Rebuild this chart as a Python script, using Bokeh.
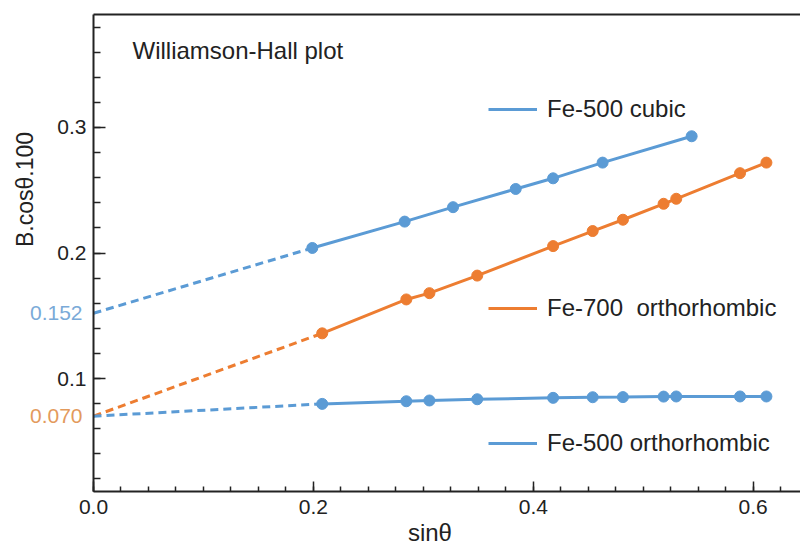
import math
from bokeh.plotting import figure
from bokeh.models import Range1d, FixedTicker, Label, Legend, LegendItem, LinearAxis
from bokeh.embed import file_html
from bokeh.resources import INLINE

# ---- data ----
x_cubic = [0.199, 0.283, 0.327, 0.384, 0.418, 0.463, 0.544]
y_cubic = [0.204, 0.225, 0.2365, 0.251, 0.2595, 0.272, 0.293]

x_fe700 = [0.208, 0.2845, 0.3055, 0.349, 0.418, 0.454, 0.4815, 0.5185, 0.530, 0.588, 0.612]
y_fe700 = [0.136, 0.163, 0.168, 0.182, 0.2055, 0.2175, 0.2265, 0.2392, 0.2432, 0.2636, 0.272]

x_fe500o = [0.208, 0.2845, 0.3055, 0.349, 0.418, 0.454, 0.4815, 0.5185, 0.530, 0.588, 0.612]
y_fe500o = [0.0798, 0.0819, 0.0825, 0.0835, 0.0846, 0.0851, 0.0852, 0.0856, 0.0857, 0.0857, 0.0857]

intercept_cubic = 0.152
intercept_fe700 = 0.070
intercept_fe500o = 0.070

series_names = ["Fe-500 cubic", "Fe-700  orthorhombic", "Fe-500 orthorhombic"]
intercept_labels = ["0.152", "0.070"]

x_major = [0.0, 0.2, 0.4, 0.6]
x_minor = [i * 0.025 for i in range(0, 26)]
y_major = [0.1, 0.2, 0.3]
y_minor = [i * 0.02 for i in range(1, 20)]

BLUE = "#5b9bd5"
ORANGE = "#ed7d31"
INK = "#222222"
FONT = "Liberation Sans"

# axis (data) extents and the canvas margins around them, in pixels
X0, X1 = 0.0, 0.643
Y0, Y1 = 0.01, 0.39
W, H = 800, 548
LEFT, RIGHT, TOP, BOTTOM = 93, 0, 14, 57
xpx = (W - LEFT - RIGHT) / (X1 - X0)
ypx = (H - TOP - BOTTOM) / (Y1 - Y0)
x_lo, x_hi = X0 - LEFT / xpx, X1 + RIGHT / xpx
y_lo, y_hi = Y0 - BOTTOM / ypx, Y1 + TOP / ypx

p = figure(width=W, height=H, x_range=Range1d(x_lo, x_hi), y_range=Range1d(y_lo, y_hi),
           output_backend="svg", toolbar_location=None, min_border=0)
p.outline_line_color = None
p.xgrid.visible = False
p.ygrid.visible = False
p.background_fill_color = "white"
p.border_fill_color = "white"

# axes drawn at fixed data positions
for ax in (p.xaxis[0], p.yaxis[0]):
    ax.axis_line_color = INK
    ax.axis_line_width = 2
    ax.major_tick_line_color = INK
    ax.minor_tick_line_color = INK
    ax.major_tick_line_width = 1.5
    ax.minor_tick_line_width = 1.5
    ax.major_tick_out = 0
    ax.minor_tick_out = 0
    ax.major_label_text_font = FONT
    ax.major_label_text_font_size = "21px"
    ax.major_label_text_color = INK

xa = p.xaxis[0]
xa.fixed_location = Y0
xa.bounds = (X0, X1)
xa.ticker = FixedTicker(ticks=x_major, minor_ticks=x_minor)
xa.major_tick_in = 10
xa.minor_tick_in = 5
xa.major_label_standoff = 8
xa.major_label_overrides = {0.0: "0.0", 0.2: "0.2", 0.4: "0.4", 0.6: "0.6"}

ya = p.yaxis[0]
ya.fixed_location = X0
ya.bounds = (Y0, Y1)
ya.ticker = FixedTicker(ticks=y_major, minor_ticks=y_minor)
ya.major_tick_in = 12
ya.minor_tick_in = 7
ya.major_label_standoff = 7

# top border line
top = LinearAxis(fixed_location=Y1, bounds=(X0, X1), ticker=FixedTicker(ticks=[]),
                 axis_line_color=INK, axis_line_width=2,
                 major_tick_line_color=None, minor_tick_line_color=None,
                 major_label_text_font_size="0px")
p.add_layout(top, "above")

# dashed extrapolations
p.line([0, x_cubic[0]], [intercept_cubic, y_cubic[0]], line_color=BLUE, line_width=3, line_dash="8 5")
p.line([0, x_fe700[0]], [intercept_fe700, y_fe700[0]], line_color=ORANGE, line_width=3, line_dash="8 5")
p.line([0, x_fe500o[0]], [intercept_fe500o, y_fe500o[0]], line_color=BLUE, line_width=3, line_dash="8 5")

# solid lines + markers
r1 = p.line(x_cubic, y_cubic, line_color=BLUE, line_width=3)
p.scatter(x_cubic, y_cubic, size=11, fill_color=BLUE, line_color=BLUE)
r2 = p.line(x_fe700, y_fe700, line_color=ORANGE, line_width=3)
p.scatter(x_fe700, y_fe700, size=11, fill_color=ORANGE, line_color=ORANGE)
r3 = p.line(x_fe500o, y_fe500o, line_color=BLUE, line_width=3)
p.scatter(x_fe500o, y_fe500o, size=11, fill_color=BLUE, line_color=BLUE)

# legends (three separate entries)
for name, rend, loc in zip(series_names, [r1, r2, r3], [(488, 425), (488, 226), (488, 91)]):
    lg = Legend(items=[LegendItem(label=name, renderers=[rend])], location=loc,
                padding=0, margin=0, border_line_alpha=0, background_fill_alpha=0,
                glyph_width=49, glyph_height=24, label_height=24, label_standoff=10,
                label_text_font=FONT, label_text_font_size="24px", label_text_color=INK)
    p.add_layout(lg)

# texts
p.add_layout(Label(x=X0, y=Y1, x_offset=39, y_offset=-36, text="Williamson-Hall plot",
                   text_font=FONT, text_font_size="24px", text_color=INK,
                   text_baseline="middle"))
p.add_layout(Label(x=x_lo, y=0.2506, x_offset=24, angle=math.pi / 2, text="B.cosθ.100",
                   text_font=FONT, text_font_size="23px", text_color=INK,
                   text_align="center", text_baseline="middle"))
p.add_layout(Label(x=0.306, y=Y0, y_offset=-41, text="sinθ",
                   text_font=FONT, text_font_size="24px", text_color=INK,
                   text_align="center", text_baseline="middle"))
p.add_layout(Label(x=X0, y=intercept_cubic, x_offset=-11, text=intercept_labels[0],
                   text_font=FONT, text_font_size="21px", text_color="#7aaad8",
                   text_align="right", text_baseline="middle"))
p.add_layout(Label(x=X0, y=intercept_fe700, x_offset=-11, text=intercept_labels[1],
                   text_font=FONT, text_font_size="21px", text_color="#e39a5c",
                   text_align="right", text_baseline="middle"))

open("out.html", "w").write(file_html(p, INLINE))
